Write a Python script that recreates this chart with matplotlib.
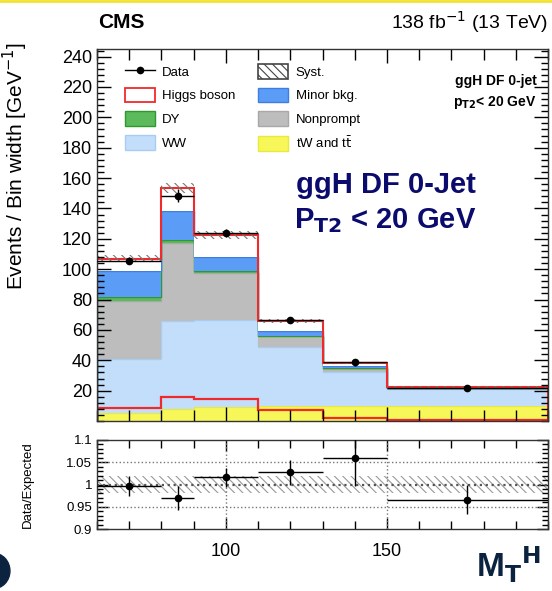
import numpy as np
import matplotlib
matplotlib.use("Agg")
import matplotlib.pyplot as plt
from matplotlib.patches import Patch, Circle
from matplotlib.lines import Line2D
from matplotlib.ticker import MultipleLocator

plt.rcParams['font.family'] = ['Liberation Sans', 'DejaVu Sans']
plt.rcParams['hatch.linewidth'] = 0.8

# ==================== datos ====================
bordes = [60, 80, 90, 110, 130, 150, 200]
tw_tt = [5, 8, 9.5, 10, 10, 10]
ww = [36, 58, 57, 38.5, 22.2, 11]
nonprompt = [38, 51, 31, 7.2, 2.2, 0.5]
dy = [3, 2, 1.2, 0.6, 0.3, 0.1]
minor = [16.5, 19, 9.3, 2.8, 1.5, 0.4]
higgs = [8.5, 15.5, 14.5, 7, 2, 0.5]
data = [105.5, 148.5, 123.8, 66.7, 38.6, 21.6]
data_err = [2.3, 4.0, 2.7, 1.9, 2.4, 0.8]
syst_rel = [0.02, 0.02, 0.02, 0.02, 0.02, 0.02]
ratio = [0.997, 0.970, 1.016, 1.027, 1.060, 0.966]
ratio_err = [0.022, 0.027, 0.022, 0.029, 0.063, 0.033]

bordes = np.array(bordes)
centros = (bordes[:-1] + bordes[1:]) / 2
anchos = np.diff(bordes)

# orden del apilado: de abajo hacia arriba
capas = [
    (tw_tt, '#f7f75a', '#e8e840'),
    (ww, '#c3defa', '#a9cdf2'),
    (nonprompt, '#bdbdbd', '#a8a8a8'),
    (dy, '#5cba5c', '#2e9a2e'),
    (minor, '#5b9cf6', '#3d7fe0'),
]

fig = plt.figure(figsize=(5.52, 5.91), dpi=100)
ax = fig.add_axes([0.1757, 0.2876, 0.8171, 0.6295])
axr = fig.add_axes([0.1757, 0.1049, 0.8171, 0.1506])

base = np.zeros(len(centros))
for vals, col, borde in capas:
    top = base + np.array(vals)
    ax.stairs(top, bordes, baseline=base, fill=True, facecolor=col, edgecolor=col, lw=0)
    ax.stairs(top, bordes, color=borde, lw=1.0)
    base = top

total = base + np.array(higgs)
ax.stairs(total, bordes, baseline=base, fill=True, facecolor='white', lw=0)
ax.stairs(total, bordes, color='#f02a2a', lw=1.5)
# Higgs sin apilar
ax.stairs(higgs, bordes, color='#f02a2a', lw=1.6)

# banda sistematica
syst = total * np.array(syst_rel)
ax.stairs(total + syst, bordes, baseline=total - syst, fill=True, facecolor='none',
          edgecolor='#777777', hatch='\\\\\\\\', lw=0)

ax.errorbar(centros, data, xerr=anchos / 2, yerr=data_err, fmt='o', color='black',
            ms=4.5, lw=1.0, capsize=0, zorder=5)

ax.set_xlim(60, 200)
ax.set_ylim(0, 245)
ax.yaxis.set_minor_locator(MultipleLocator(4))
ax.set_xticks([100, 150])
ax.xaxis.set_minor_locator(MultipleLocator(10))
ax.tick_params(which='both', direction='in', top=True, right=True, labelsize=13, width=1.0)
ax.tick_params(which='major', length=10)
ax.tick_params(which='minor', length=5)
ax.tick_params(axis='x', which='minor', length=8)
ax.set_xticklabels([])
ax.set_yticks(np.arange(20, 241, 20))
ax.set_ylabel('Events / Bin width [GeV$^{-1}$]', fontsize=15)
ax.yaxis.set_label_coords(-0.148, 0.685)
for s in ax.spines.values():
    s.set_linewidth(1.0)
    s.set_color('#333333')

# leyenda
h_data = Line2D([], [], color='black', marker='o', ms=4.5, lw=1.0)
h_syst = Patch(facecolor='white', edgecolor='#444444', hatch='\\\\\\\\', lw=1.2)
h_higgs = Patch(facecolor='white', edgecolor='#f02a2a', lw=1.3)
h_minor = Patch(facecolor='#5b9cf6', edgecolor='#3d7fe0')
h_dy = Patch(facecolor='#5cba5c', edgecolor='#2e9a2e')
h_np = Patch(facecolor='#bdbdbd', edgecolor='#a8a8a8')
h_ww = Patch(facecolor='#c3defa', edgecolor='#a9cdf2')
h_tt = Patch(facecolor='#f7f75a', edgecolor='#e8e840')
ax.legend([h_data, h_higgs, h_dy, h_ww, h_syst, h_minor, h_np, h_tt],
          ['Data', 'Higgs boson', 'DY', 'WW', 'Syst.', 'Minor bkg.', 'Nonprompt', r'tW and t$\bar{\mathrm{t}}$'],
          ncol=2, frameon=False, fontsize=9.5, loc='upper left', bbox_to_anchor=(0.035, 0.992),
          handlelength=2.3, handleheight=1.35, handletextpad=0.55, columnspacing=1.7,
          labelspacing=0.68)

ax.text(0.975, 0.915, 'ggH DF 0-jet', transform=ax.transAxes, ha='right', va='center',
        fontsize=10, fontweight='bold')
ax.text(0.975, 0.855, r'p$_{\mathbf{T2}}$< 20 GeV', transform=ax.transAxes, ha='right', va='center',
        fontsize=10, fontweight='bold')
ax.text(0.64, 0.635, 'ggH DF 0-Jet', transform=ax.transAxes, ha='center', va='center',
        fontsize=21, fontweight='bold', color='#0b0b6e')
ax.text(0.64, 0.54, r'P$_{\mathbf{T2}}$ < 20 GeV', transform=ax.transAxes, ha='center', va='center',
        fontsize=21, fontweight='bold', color='#0b0b6e')

fig.text(0.178, 0.962, 'CMS', fontsize=15, fontweight='bold', va='center')
fig.text(0.993, 0.962, '138 fb$^{-1}$ (13 TeV)', fontsize=14, ha='right', va='center')

# panel de cociente
axr.stairs(1 + np.array(syst_rel), bordes, baseline=1 - np.array(syst_rel), fill=True,
           facecolor='none', edgecolor='#999999', hatch='\\\\\\\\', lw=0)
for yv in [0.95, 1.05]:
    axr.axhline(yv, color='#777777', ls=':', lw=1.0)
axr.axhline(1.0, color='#555555', ls=':', lw=1.6)
for xv in [100, 150]:
    axr.axvline(xv, color='#777777', ls=':', lw=1.0)
axr.errorbar(centros, ratio, xerr=anchos / 2, yerr=ratio_err, fmt='o', color='black',
             ms=4.5, lw=1.0, capsize=0, zorder=5)
axr.set_xlim(60, 200)
axr.set_ylim(0.9, 1.1)
axr.set_yticks([0.9, 0.95, 1.0, 1.05, 1.1])
axr.set_yticklabels(['0.9', '0.95', '1', '1.05', '1.1'])
axr.yaxis.set_minor_locator(MultipleLocator(0.01))
axr.set_xticks([100, 150])
axr.xaxis.set_minor_locator(MultipleLocator(10))
axr.tick_params(which='both', direction='in', top=True, right=True, width=1.0)
axr.tick_params(axis='y', labelsize=9.5)
axr.tick_params(axis='x', labelsize=13, pad=10)
axr.tick_params(which='major', length=8)
axr.tick_params(which='minor', length=4)
axr.tick_params(axis='x', which='minor', length=6)
axr.set_ylabel('Data/Expected', fontsize=9.5)
axr.yaxis.set_label_coords(-0.14, 0.5)
for s in axr.spines.values():
    s.set_linewidth(1.0)
    s.set_color('#333333')

fig.text(0.98, 0.045, r'M$_{\mathbf{T}}$$^{\mathbf{H}}$', fontsize=24, fontweight='bold',
         color='#0c2340', ha='right', va='center')

# detalles de la captura
fig.add_artist(Circle((-0.012, 0.034), 0.03, transform=fig.transFigure, color='#0c2340', clip_on=False))
fig.add_artist(Line2D([0, 1], [0.998, 0.998], transform=fig.transFigure, color='#f2e230', lw=2))

fig.savefig('out.png', dpi=100)
